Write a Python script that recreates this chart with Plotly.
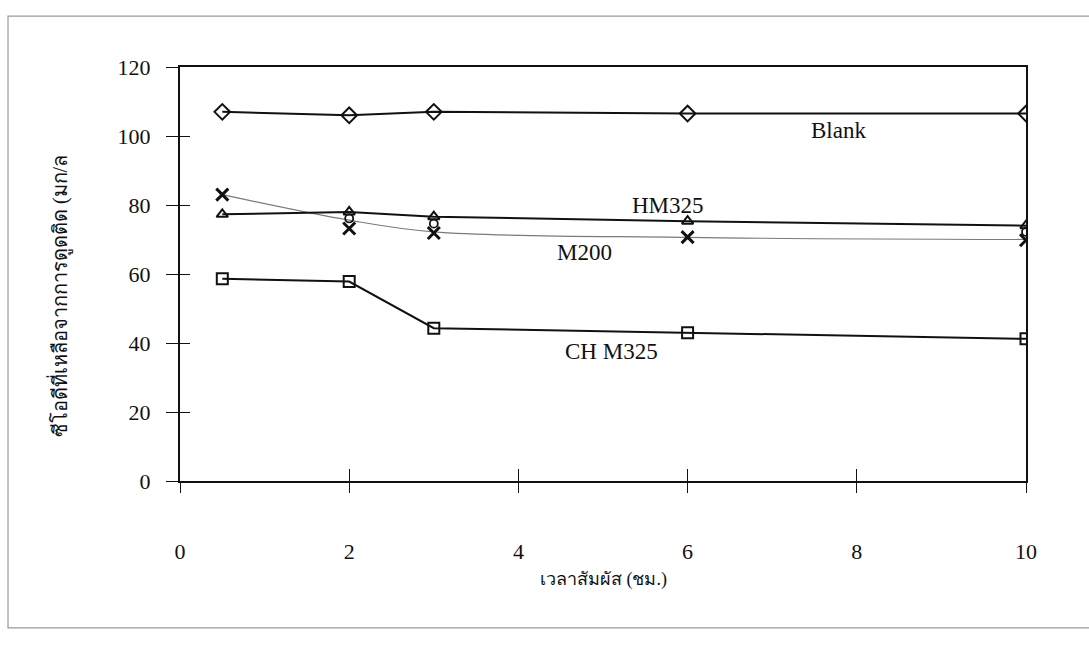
import plotly.graph_objects as go

# Data
time_h = [0.5, 2, 3, 6, 10]
blank = [107, 106, 107, 106.5, 106.5]
hm325 = [77.3, 78.0, 76.6, 75.3, 74.0]
m200_points = [83.0, 73.2, 71.9, 70.7, 69.8]
m200_curve = [83.0, 75.6, 72.2, 70.6, 70.0]
ch_m325 = [58.6, 57.8, 44.3, 43.0, 41.2]
circle_time = [2, 3, 10]
circle_vals = [76.1, 74.6, 72.2]

x_ticks = [0, 2, 4, 6, 8, 10]
y_ticks = [0, 20, 40, 60, 80, 100, 120]

series_labels = [
    ("Blank", 7.78, 101.7),
    ("HM325", 5.77, 79.8),
    ("M200", 4.78, 66.3),
    ("CH M325", 5.1, 37.6),
]

x_title = "เวลาสัมผัส (ชม.)"
y_title = "ซีโอดีที่เหลือจากการดูดติด (มก/ล"

FONT = "Liberation Serif, Times New Roman, serif"
BLACK = "#111111"

fig = go.Figure()

# lines
fig.add_trace(go.Scatter(x=time_h, y=m200_curve, mode="lines",
                         line=dict(color="#7a7a7a", width=1.2, shape="spline", smoothing=1.0),
                         hoverinfo="skip"))
for vals in (blank, hm325, ch_m325):
    fig.add_trace(go.Scatter(x=time_h, y=vals, mode="lines",
                             line=dict(color=BLACK, width=2), hoverinfo="skip"))

# markers
fig.add_trace(go.Scatter(x=circle_time, y=circle_vals, mode="markers",
                         marker=dict(symbol="circle-open", size=8, color=BLACK, line=dict(width=1.8))))
fig.add_trace(go.Scatter(x=time_h, y=blank, mode="markers",
                         marker=dict(symbol="diamond-open", size=12, color=BLACK, line=dict(width=2))))
fig.add_trace(go.Scatter(x=time_h, y=hm325, mode="markers",
                         marker=dict(symbol="triangle-up-open", size=10, color=BLACK, line=dict(width=2))))
fig.add_trace(go.Scatter(x=time_h, y=m200_points, mode="markers",
                         marker=dict(symbol="x-thin-open", size=12, color=BLACK, line=dict(width=3, color=BLACK))))
fig.add_trace(go.Scatter(x=time_h, y=ch_m325, mode="markers",
                         marker=dict(symbol="square-open", size=11, color=BLACK, line=dict(width=2))))

# invisible trace on overlay axes (they carry the outer half of the cross ticks)
fig.add_trace(go.Scatter(x=[time_h[0]], y=[blank[0]], xaxis="x2", yaxis="y2", mode="markers",
                         marker=dict(size=1, opacity=0), showlegend=False, hoverinfo="skip"))

for label, lx, ly in series_labels:
    fig.add_annotation(x=lx, y=ly, text=label, showarrow=False,
                       font=dict(family=FONT, size=23, color=BLACK))

fig.add_annotation(xref="paper", yref="paper", x=0.5, y=-0.268, text=x_title, showarrow=False,
                   font=dict(family=FONT, size=18, color=BLACK))
fig.add_annotation(xref="paper", yref="paper", x=-0.16, y=0.447, text=y_title, showarrow=False,
                   textangle=-90, font=dict(family=FONT, size=20, color=BLACK))

# outer frame of the figure
fig.add_shape(type="rect", xref="paper", yref="paper", x0=-0.2033, x1=1.0757, y0=-0.355, y1=1.123,
              line=dict(color="#9a9a9a", width=1.2), layer="below")

axis_common = dict(showgrid=False, zeroline=False, linecolor=BLACK, linewidth=2,
                   tickcolor=BLACK, tickwidth=1.2)

fig.update_layout(
    width=1089, height=650,
    margin=dict(l=180, r=63, t=67, b=169),
    paper_bgcolor="white", plot_bgcolor="rgba(0,0,0,0)",
    showlegend=False,
    font=dict(family=FONT, size=22, color=BLACK),
    xaxis=dict(range=[0, 10], tickvals=x_ticks, ticks="inside", ticklen=12,
               mirror=True, showline=True, ticklabelstandoff=50,
               tickfont=dict(family=FONT, size=22, color=BLACK), **axis_common),
    yaxis=dict(range=[0, 120], tickvals=y_ticks, ticks="inside", ticklen=10,
               mirror=True, showline=True, ticklabelstandoff=23,
               tickfont=dict(family=FONT, size=22, color=BLACK), **axis_common),
    xaxis2=dict(range=[0, 10], tickvals=x_ticks, ticks="outside", ticklen=11, overlaying="x",
                anchor="y", side="bottom", showticklabels=False, showline=False,
                showgrid=False, zeroline=False, tickcolor=BLACK, tickwidth=1.2),
    yaxis2=dict(range=[0, 120], tickvals=y_ticks, ticks="outside", ticklen=13, overlaying="y",
                anchor="x", side="left", showticklabels=False, showline=False,
                showgrid=False, zeroline=False, tickcolor=BLACK, tickwidth=1.2),
)

fig.write_html("out.html")
